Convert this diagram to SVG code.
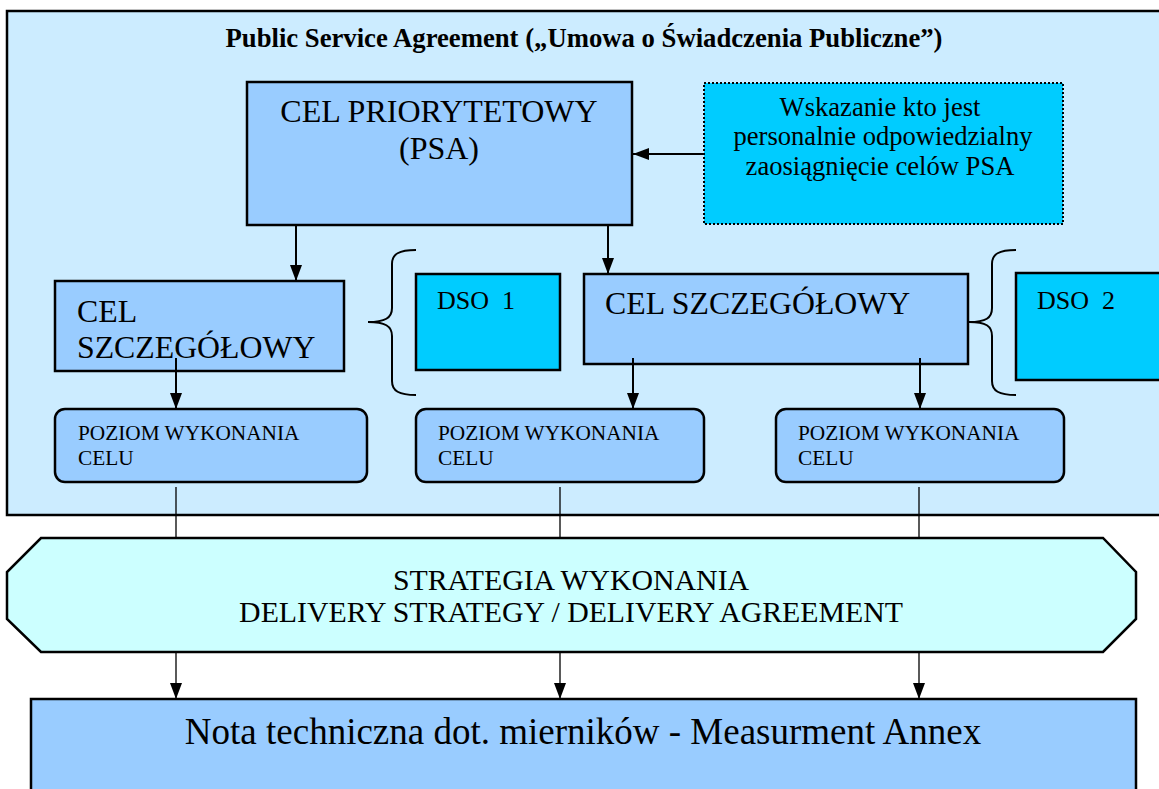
<svg xmlns="http://www.w3.org/2000/svg" width="1159" height="789" viewBox="0 0 1159 789">
<style>
text{font-family:"Liberation Serif","Times New Roman",serif;fill:#000}
.box{stroke:#000;stroke-width:2.5}
.blue{fill:#99CCFF}
.cyan{fill:#00CCFF}
.conn{stroke:#000;stroke-width:2;fill:none}
.thin{stroke:#000;stroke-width:1.3;fill:none}
.brace{stroke:#000;stroke-width:2;fill:none}
.cel{font-size:31.8px}
.poz{font-size:21.3px}
</style>
<defs>
<marker id="ah" markerUnits="userSpaceOnUse" markerWidth="16" markerHeight="12" refX="16" refY="6" orient="auto">
<path d="M0,0 L16,6 L0,12 z" fill="#000"/>
</marker>
</defs>
<rect width="1159" height="789" fill="#fff"/>
<g id="psa-frame">
<rect x="7" y="11" width="1170" height="504" fill="#CCECFF" stroke="#000" stroke-width="2.5"/>
<text x="584" y="47" font-size="26.7" font-weight="bold" text-anchor="middle">Public Service Agreement („Umowa o Świadczenia Publiczne”)</text>
</g>
<g id="cel-priorytetowy">
<rect class="box blue" x="247" y="82" width="385" height="143"/>
<text x="439" y="122" font-size="32" text-anchor="middle">CEL PRIORYTETOWY</text>
<text x="439" y="159" font-size="32" text-anchor="middle">(PSA)</text>
</g>
<g id="wskazanie">
<rect x="704" y="83" width="359" height="141" fill="#00CCFF" stroke="#000" stroke-width="2" stroke-dasharray="2,2"/>
<text x="880" y="116" font-size="26.6" text-anchor="middle">Wskazanie kto jest</text>
<text x="883" y="145" font-size="26.6" text-anchor="middle">personalnie odpowiedzialny</text>
<text x="880" y="175" font-size="26.6" text-anchor="middle">zaosiągnięcie celów PSA</text>
</g>
<g id="cel-szczegolowy-1">
<rect class="box blue" x="55" y="281" width="289" height="90"/>
<text class="cel" x="77" y="322">CEL</text>
<text class="cel" x="77" y="358">SZCZEGÓŁOWY</text>
</g>
<g id="dso1">
<rect class="box cyan" x="416" y="274" width="144" height="96"/>
<text x="437" y="309" font-size="26" xml:space="preserve">DSO  1</text>
</g>
<g id="cel-szczegolowy-2">
<rect class="box blue" x="584" y="274" width="384" height="90"/>
<text class="cel" x="605" y="314">CEL SZCZEGÓŁOWY</text>
</g>
<g id="dso2">
<rect class="box cyan" x="1016" y="273" width="160" height="107"/>
<text x="1037" y="309" font-size="26" xml:space="preserve">DSO  2</text>
</g>
<g id="poziom-1">
<rect class="box blue" x="55" y="409" width="312" height="73" rx="10"/>
<text class="poz" x="78" y="440">POZIOM WYKONANIA</text>
<text class="poz" x="78" y="465">CELU</text>
</g>
<g id="poziom-2">
<rect class="box blue" x="416" y="409" width="288" height="73" rx="10"/>
<text class="poz" x="438" y="440">POZIOM WYKONANIA</text>
<text class="poz" x="438" y="465">CELU</text>
</g>
<g id="poziom-3">
<rect class="box blue" x="776" y="409" width="288" height="73" rx="10"/>
<text class="poz" x="798" y="440">POZIOM WYKONANIA</text>
<text class="poz" x="798" y="465">CELU</text>
</g>
<g id="strategia">
<polygon points="41,538 1103,538 1136,572 1136,619 1103,652 41,652 7,619 7,572" fill="#CCFFFF" stroke="#000" stroke-width="2.5"/>
<text x="571" y="590" font-size="29.8" text-anchor="middle">STRATEGIA WYKONANIA</text>
<text x="571" y="622" font-size="29.8" text-anchor="middle">DELIVERY STRATEGY / DELIVERY AGREEMENT</text>
</g>
<g id="nota">
<rect class="box blue" x="31" y="699" width="1105" height="110"/>
<text x="583" y="744" font-size="37" text-anchor="middle">Nota techniczna dot. mierników - Measurment Annex</text>
</g>
<g id="connectors">
<path class="brace" d="M416,250 C399,250 392,254 392,264 L392,308 C392,318 385,322 368,322 C385,322 392,326 392,336 L392,381 C392,391 399,395 416,395"/>
<path class="brace" d="M1016,250 C999,250 992,254 992,264 L992,308 C992,318 986,322 969,322 C986,322 992,326 992,336 L992,381 C992,391 999,395 1016,395"/>
<line class="conn" x1="296" y1="225" x2="296" y2="281" marker-end="url(#ah)"/>
<line class="conn" x1="608" y1="225" x2="608" y2="274" marker-end="url(#ah)"/>
<line class="conn" x1="704" y1="154" x2="633" y2="154" marker-end="url(#ah)"/>
<line class="conn" x1="176" y1="358" x2="176" y2="409" marker-end="url(#ah)"/>
<line class="conn" x1="633" y1="358" x2="633" y2="409" marker-end="url(#ah)"/>
<line class="conn" x1="920" y1="358" x2="920" y2="409" marker-end="url(#ah)"/>
<line class="thin" x1="176" y1="487" x2="176" y2="538"/>
<line class="thin" x1="560" y1="487" x2="560" y2="538"/>
<line class="thin" x1="919" y1="487" x2="919" y2="538"/>
<line class="thin" x1="176" y1="652" x2="176" y2="699" marker-end="url(#ah)"/>
<line class="thin" x1="560" y1="652" x2="560" y2="699" marker-end="url(#ah)"/>
<line class="thin" x1="919" y1="652" x2="919" y2="699" marker-end="url(#ah)"/>
</g>
</svg>
